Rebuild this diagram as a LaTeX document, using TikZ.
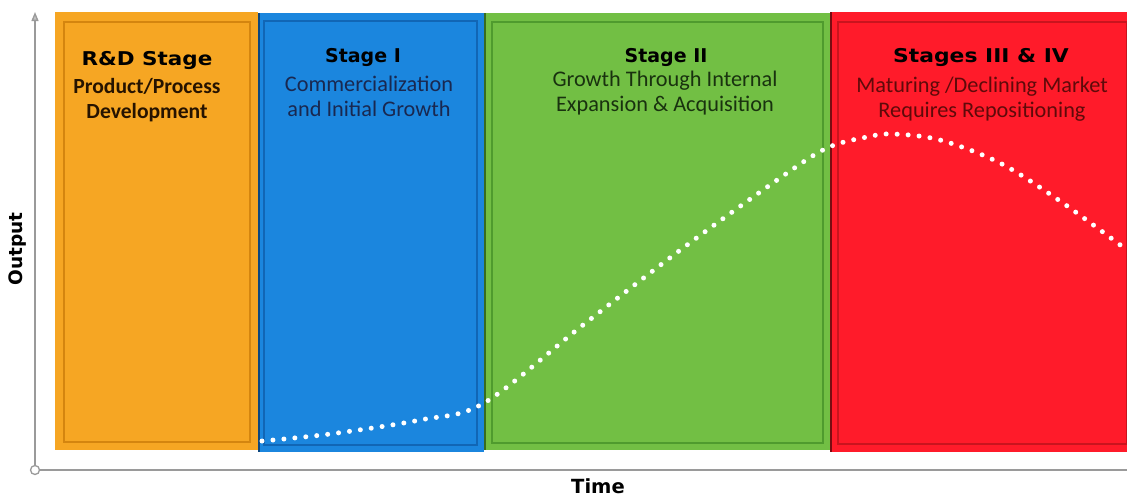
\documentclass[tikz,border=0pt]{standalone}
\usepackage{fontspec}
\usepackage{graphicx}
\setmainfont{Carlito}
\newfontfamily\heavy{DejaVu Sans}
\usetikzlibrary{arrows.meta}
\definecolor{ofill}{HTML}{F6A623}\definecolor{oline}{HTML}{D4850F}
\definecolor{bfill}{HTML}{1B86DE}\definecolor{bline}{HTML}{1166B5}
\definecolor{gfill}{HTML}{72BF44}\definecolor{gline}{HTML}{4F9B2E}
\definecolor{rfill}{HTML}{FF1B2A}\definecolor{rline}{HTML}{C9141E}
\definecolor{axisgrey}{HTML}{9A9A9A}
\tikzset{
  title/.style={font=\heavy\bfseries\fontsize{19}{22}\selectfont, text=black, inner sep=0pt, anchor=base},
  sub/.style={font=\fontsize{22.3}{25}\selectfont, align=center, inner sep=0pt, anchor=north},
  axislabel/.style={font=\heavy\bfseries\fontsize{18.5}{20}\selectfont, text=black, inner sep=0pt},
  axisline/.style={draw=axisgrey, line width=1.3pt},
  stagebox/.style={line width=2pt},
}
\begin{document}
\begin{tikzpicture}[x=1pt,y=-1pt]
\useasboundingbox (0,0) rectangle (1127,499);
% boxes
\fill[ofill] (55,12) rectangle (258,450);
\draw[oline, stagebox] (64,22) rectangle (250,442);
\fill[bfill] (258,13) rectangle (484,452);
\draw[bline, stagebox] (264,21) rectangle (477,445);
\draw[bline!70!black, line width=2.5pt] (259,13) -- (259,452);
\fill[gfill] (484,13) rectangle (830,450);
\draw[gline, stagebox] (492,22) rectangle (823,443);
\draw[gline!70!black, line width=2pt] (485,13) -- (485,450);
\fill[rfill] (830,12) rectangle (1127,452);
\draw[rline, stagebox] (838,22) rectangle (1127,444);
\draw[rline!60!black, line width=2.5pt] (831,12) -- (831,452);
% texts
\node[title] (t0) at (147,65) {\scalebox{1.13}[1]{R\&D Stage}};
\node[sub, font=\bfseries\fontsize{21.6}{25}\selectfont, text=black!85!orange] (s0) at (147,78) {Product/Process\\Development};
\node[title] (t1) at (363,62) {Stage I};
\node[sub, text={rgb,255:red,25;green,40;blue,80}] (s1) at (369,76) {Commercialization\\and Initial Growth};
\node[title] (t2) at (666,62) {Stage II};
\node[sub, text={rgb,255:red,25;green,50;blue,15}] (s2) at (665,71) {Growth Through Internal\\Expansion \& Acquisition};
\node[title] (t3) at (981,62) {\scalebox{1.15}[1]{Stages III \& IV}};
\node[sub, text={rgb,255:red,95;green,10;blue,10}] (s3) at (982,77) {Maturing /Declining Market\\Requires Repositioning};
% curve
\draw[white, line width=5pt, line cap=round, dash pattern=on 0pt off 11pt]
  plot[smooth, tension=0.55] coordinates {(262,441) (330,434) (420,420) (484,403) (583,325) (683,248) (780,178) (827,148) (867,137) (893,134) (940,140) (1000,163) (1060,201) (1127,250)};
% axes
\coordinate (o) at (35,470);
\coordinate (ytop) at (35,12);
\coordinate (xend) at (1127,470);
\draw[axisline, -{Triangle[width=7pt,length=9pt,fill=axisgrey!60]}] (o) -- (ytop);
\draw[axisline] (o) -- (xend);
\draw[axisgrey, line width=1.3pt, fill=white] (o) circle (4.5);
\node[axislabel, rotate=90] (ylab) at (18,249) {Output};
\node[axislabel, font=\heavy\bfseries\fontsize{19.5}{21}\selectfont] (xlab) at (598,486) {Time};
\end{tikzpicture}
\end{document}
